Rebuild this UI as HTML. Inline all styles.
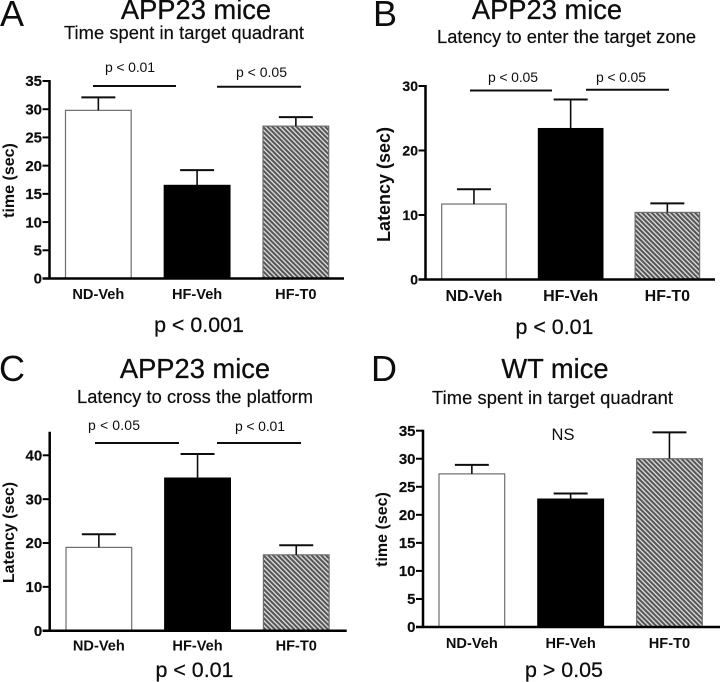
<!DOCTYPE html>
<html>
<head>
<meta charset="utf-8">
<title>Mouse behaviour bar charts</title>
<style>
html,body{margin:0;padding:0;background:#fff;}
svg{display:block;font-family:"Liberation Sans",Arial,sans-serif;}
</style>
</head>
<body>
<svg id="chart" xmlns="http://www.w3.org/2000/svg" width="720" height="682" viewBox="0 0 720 682">
<defs>
<pattern id="hatch" patternUnits="userSpaceOnUse" width="3.4" height="3.4" patternTransform="rotate(45)">
<rect width="3.4" height="3.4" fill="#555"></rect>
<rect width="3.4" height="1.4" fill="#d8d8d8"></rect>
</pattern>
<filter id="soft" x="-2%" y="-2%" width="104%" height="104%"><feGaussianBlur stdDeviation="0.3"></feGaussianBlur></filter>
</defs>
<rect width="720" height="682" fill="#fff"></rect>
<g filter="url(#soft)" fill="#111" stroke-width="0">
<g id="panel-a">
<text x="0" y="26" font-size="36">A</text>
<text x="196" y="19" font-size="27.3" text-anchor="middle" stroke="#111" stroke-width="0.3">APP23 mice</text>
<text x="184" y="39" font-size="18.3" text-anchor="middle" textLength="240" stroke="#111" stroke-width="0.2">Time spent in target quadrant</text>
<text x="130" y="72" font-size="14" text-anchor="middle" textLength="50">p &lt; 0.01</text>
<text x="261.5" y="77" font-size="14" text-anchor="middle" textLength="51">p &lt; 0.05</text>
<line x1="93" x2="176" y1="86" y2="86" stroke="#111" stroke-width="2"></line>
<line x1="217" x2="301" y1="86.7" y2="86.7" stroke="#111" stroke-width="2"></line>
<text transform="translate(14 180.5) rotate(-90)" font-size="16" font-weight="bold" text-anchor="middle">time (sec)</text>
<text x="199" y="332" font-size="21.4" text-anchor="middle" stroke="#111" stroke-width="0.25">p &lt; 0.001</text>
</g>
<g id="panel-b">
<text x="373" y="26" font-size="36">B</text>
<text x="547" y="19" font-size="27.3" text-anchor="middle" stroke="#111" stroke-width="0.3">APP23 mice</text>
<text x="566.5" y="43" font-size="18.3" text-anchor="middle" textLength="259" stroke="#111" stroke-width="0.2">Latency to enter the target zone</text>
<text x="513" y="82" font-size="14" text-anchor="middle" textLength="50">p &lt; 0.05</text>
<text x="621" y="82" font-size="14" text-anchor="middle" textLength="50">p &lt; 0.05</text>
<line x1="470" x2="552" y1="90.5" y2="90.5" stroke="#111" stroke-width="2"></line>
<line x1="586" x2="669" y1="89.7" y2="89.7" stroke="#111" stroke-width="2"></line>
<text transform="translate(390 184.5) rotate(-90)" font-size="18" font-weight="bold" text-anchor="middle">Latency (sec)</text>
<text x="554.5" y="334" font-size="21.4" text-anchor="middle" stroke="#111" stroke-width="0.25">p &lt; 0.01</text>
</g>
<g id="panel-c">
<text x="-1" y="381" font-size="36">C</text>
<text x="195" y="378" font-size="27.3" text-anchor="middle" stroke="#111" stroke-width="0.3">APP23 mice</text>
<text x="195" y="403" font-size="18.3" text-anchor="middle" textLength="236" stroke="#111" stroke-width="0.2">Latency to cross the platform</text>
<text x="114" y="430" font-size="14" text-anchor="middle" textLength="52">p &lt; 0.05</text>
<text x="260" y="431" font-size="14" text-anchor="middle" textLength="50">p &lt; 0.01</text>
<line x1="95" x2="179" y1="443" y2="443" stroke="#111" stroke-width="2"></line>
<line x1="217" x2="301" y1="443" y2="443" stroke="#111" stroke-width="2"></line>
<text transform="translate(14 532.5) rotate(-90)" font-size="15.8" font-weight="bold" text-anchor="middle">Latency (sec)</text>
<text x="194.5" y="677" font-size="21.4" text-anchor="middle" stroke="#111" stroke-width="0.25">p &lt; 0.01</text>
</g>
<g id="panel-d">
<text x="371" y="381" font-size="36">D</text>
<text x="555" y="378" font-size="27.3" text-anchor="middle" stroke="#111" stroke-width="0.3">WT mice</text>
<text x="552.5" y="404" font-size="18.3" text-anchor="middle" textLength="241" stroke="#111" stroke-width="0.2">Time spent in target quadrant</text>
<text x="563" y="440" font-size="16.5" text-anchor="middle">NS</text>
<text transform="translate(387 529.5) rotate(-90)" font-size="16" font-weight="bold" text-anchor="middle">time (sec)</text>
<text x="564" y="677" font-size="21.4" text-anchor="middle" stroke="#111" stroke-width="0.25">p &gt; 0.05</text>
</g>
</g>
</svg>
<script>
var categories = ["ND-Veh", "HF-Veh", "HF-T0"];

var valuesA = [29.8, 16.5, 27.0];
var errorTopsA = [32.1, 19.2, 28.6];
var ticksA = [0, 5, 10, 15, 20, 25, 30, 35];

var valuesB = [11.7, 23.4, 10.4];
var errorTopsB = [14.0, 27.9, 11.8];
var ticksB = [0, 10, 20, 30];

var valuesC = [19.0, 34.8, 17.3];
var errorTopsC = [22.0, 40.3, 19.5];
var ticksC = [0, 10, 20, 30, 40];

var valuesD = [27.3, 22.8, 30.0];
var errorTopsD = [28.9, 23.8, 34.7];
var ticksD = [0, 5, 10, 15, 20, 25, 30, 35];

var SVG_NS = "http://www.w3.org/2000/svg";
var barFills = ["#fff", "#000", "url(#hatch)"];
var barStrokes = ["#6e6e6e", "#000", "#6e6e6e"];

function makeNode(parent, tag, attrs) {
  var node = document.createElementNS(SVG_NS, tag);
  for (var key in attrs) { node.setAttribute(key, attrs[key]); }
  parent.appendChild(node);
  return node;
}

function drawPanel(id, values, errorTops, ticks, layout) {
  var group = document.getElementById("panel-" + id);
  function yScale(v) { return layout.baseY - v * layout.pxPerUnit; }
  function xBand(i) { return layout.firstBarX + i * layout.barStep; }

  categories.forEach(function (name, i) {
    var x = xBand(i);
    var top = yScale(values[i]);
    var mid = x + layout.barWidth / 2;
    var errY = yScale(errorTops[i]);

    var bar = makeNode(group, "rect", { x: x, y: top, width: layout.barWidth, height: layout.baseY - top, fill: barFills[i], stroke: barStrokes[i], "stroke-width": 1.2 });
    
    

    var stem = makeNode(group, "line", { x1: mid, x2: mid, y1: top, y2: errY, stroke: "#111", "stroke-width": 1.6 });
    
    

    var cap = makeNode(group, "line", { x1: mid - 17, x2: mid + 17, y1: errY, y2: errY, stroke: "#111", "stroke-width": 2 });
    
    

    var label = makeNode(group, "text", { x: mid, y: layout.categoryY, "font-size": layout.categorySize, "font-weight": "bold", "text-anchor": "middle" });
    label.textContent = name;
    
    
  });

  var yAxis = makeNode(group, "line", { x1: layout.axisX, x2: layout.axisX, y1: layout.axisTop - 1, y2: layout.baseY + 1, stroke: "#000", "stroke-width": 2.5 });
  
  

  var xAxis = makeNode(group, "line", { x1: layout.axisX - 7, x2: layout.axisEnd, y1: layout.baseY, y2: layout.baseY, stroke: "#000", "stroke-width": 2.5 });
  
  

  ticks.forEach(function (t) {
    var y = yScale(t);
    var mark = makeNode(group, "line", { x1: layout.axisX - 7, x2: layout.axisX, y1: y, y2: y, stroke: "#000", "stroke-width": 2 });
    
    

    var text = makeNode(group, "text", { x: layout.axisX - 7.5, y: y + 5.2, "font-size": layout.tickSize, "font-weight": "bold", "text-anchor": "end", stroke: "#111", "stroke-width": 0.2 });
    text.textContent = t;
    
    
  });
}

drawPanel("a", valuesA, errorTopsA, ticksA, { axisX: 49.5, axisTop: 81, axisEnd: 344, baseY: 278.5, pxPerUnit: 5.643, firstBarX: 65.5, barStep: 98.75, barWidth: 65.7, categoryY: 299, categorySize: 14.6, tickSize: 15 });
drawPanel("b", valuesB, errorTopsB, ticksB, { axisX: 425.5, axisTop: 86, axisEnd: 715, baseY: 279.5, pxPerUnit: 6.45, firstBarX: 441.7, barStep: 96.7, barWidth: 64.5, categoryY: 301, categorySize: 16, tickSize: 14 });
drawPanel("c", valuesC, errorTopsC, ticksC, { axisX: 49.7, axisTop: 432.7, axisEnd: 346.7, baseY: 630.7, pxPerUnit: 4.385, firstBarX: 66, barStep: 98.7, barWidth: 65.7, categoryY: 650.7, categorySize: 14.6, tickSize: 15 });
drawPanel("d", valuesD, errorTopsD, ticksD, { axisX: 423, axisTop: 430.7, axisEnd: 720, baseY: 627, pxPerUnit: 5.609, firstBarX: 439, barStep: 98.8, barWidth: 65.7, categoryY: 648, categorySize: 14.6, tickSize: 15 });
</script>
</body>
</html>
